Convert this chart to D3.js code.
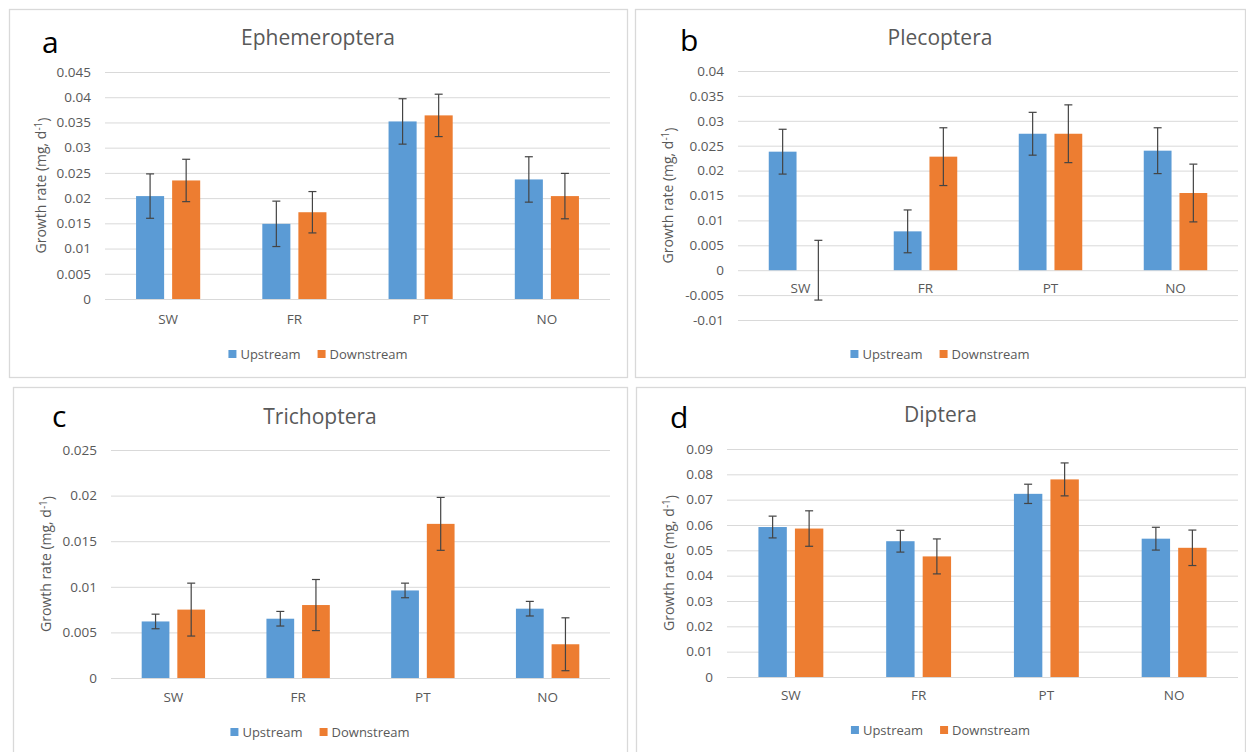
<!DOCTYPE html>
<html>
<head>
<meta charset="utf-8">
<script src="https://cdn.jsdelivr.net/npm/d3@7"></script>
<style>
  body { margin: 0; background: #fff; }
  text { font-family: "Open Sans", sans-serif; fill: #595959; }
</style>
</head>
<body>
<div id="chart"></div>
<script>
let width = 1246
let height = 752

let categories = ["SW", "FR", "PT", "NO"]
let seriesNames = ["Upstream", "Downstream"]
let colors = ["#5B9BD5", "#ED7D31"]

// Ephemeroptera
let ephUp = [0.0204, 0.0149, 0.0352, 0.0237]
let ephUpErr = [0.0044, 0.0045, 0.0045, 0.0045]
let ephDown = [0.0235, 0.0172, 0.0364, 0.0204]
let ephDownErr = [0.0042, 0.0041, 0.0042, 0.0045]
let ephTicks = [0, 0.005, 0.01, 0.015, 0.02, 0.025, 0.03, 0.035, 0.04, 0.045]

// Plecoptera
let pleUp = [0.0238, 0.0078, 0.0274, 0.0240]
let pleUpErr = [0.0045, 0.0043, 0.0043, 0.0046]
let pleDown = [0, 0.0228, 0.0274, 0.0155]
let pleDownErr = [0.0060, 0.0058, 0.0058, 0.0058]
let pleTicks = [-0.01, -0.005, 0, 0.005, 0.01, 0.015, 0.02, 0.025, 0.03, 0.035, 0.04]

// Trichoptera
let triUp = [0.0062, 0.0065, 0.0096, 0.0076]
let triUpErr = [0.0008, 0.0008, 0.0008, 0.0008]
let triDown = [0.0075, 0.0080, 0.0169, 0.0037]
let triDownErr = [0.0029, 0.0028, 0.0029, 0.0029]
let triTicks = [0, 0.005, 0.01, 0.015, 0.02, 0.025]

// Diptera
let dipUp = [0.0592, 0.0536, 0.0723, 0.0546]
let dipUpErr = [0.0043, 0.0043, 0.0038, 0.0045]
let dipDown = [0.0586, 0.0476, 0.0780, 0.0510]
let dipDownErr = [0.0070, 0.0069, 0.0065, 0.0070]
let dipTicks = [0, 0.01, 0.02, 0.03, 0.04, 0.05, 0.06, 0.07, 0.08, 0.09]

let svg = d3.select("#chart")
  .append("svg")
    .attr("width", width)
    .attr("height", height)

function drawPanel(p) {
  let g = svg.append("g")

  // panel frame
  g.append("rect")
    .attr("x", p.box[0] + 0.5).attr("y", p.box[1] + 0.5)
    .attr("width", p.box[2] - p.box[0]).attr("height", p.box[3] - p.box[1])
    .attr("fill", "#fff").attr("stroke", "#d9d9d9").attr("stroke-width", 1.3)

  let cx = (p.box[0] + p.box[2]) / 2
  let [left, top, right, bottom] = p.plot

  let y = d3.scaleLinear()
    .domain(d3.extent(p.ticks))
    .range([bottom, top])

  let x0 = d3.scaleBand().domain(categories).range([left, right])
  let step = x0.bandwidth()
  let x1 = d3.scaleBand().domain(seriesNames)
    .range([step * 0.246, step * 0.754])
    .paddingInner(0.222)

  // gridlines
  let grid = g.append("g")
    .attr("transform", `translate(${left},0)`)
    .call(d3.axisLeft(y).tickValues(p.ticks).tickSize(-(right - left)).tickFormat(""))
  grid.select(".domain").remove()
  grid.selectAll("line").attr("stroke", "#d9d9d9")

  // y labels
  let yAx = g.append("g")
    .attr("transform", `translate(${left},0)`)
    .call(d3.axisLeft(y).tickValues(p.ticks).tickSize(0).tickPadding(14).tickFormat(d => String(d)))
  yAx.select(".domain").remove()
  yAx.selectAll("text")
    .style("font-family", "Open Sans").style("font-size", "13.5px").attr("fill", "#595959")

  // x labels below the zero line
  let xAx = g.append("g")
    .attr("transform", `translate(0,${y(0)})`)
    .call(d3.axisBottom(x0).tickSize(0).tickPadding(p.xPad))
  xAx.select(".domain").remove()
  xAx.selectAll("text")
    .style("font-family", "Open Sans").style("font-size", "13.5px").attr("fill", "#595959")

  let rows = categories.map((c, i) => ({
    cat: c,
    vals: [
      { s: seriesNames[0], v: p.up[i], e: p.upErr[i] },
      { s: seriesNames[1], v: p.down[i], e: p.downErr[i] }
    ]
  }))

  let groups = g.append("g")
    .selectAll("g")
    .data(rows)
    .enter()
    .append("g")
      .attr("transform", d => `translate(${x0(d.cat)},0)`)

  groups.selectAll("rect")
    .data(d => d.vals)
    .enter()
    .append("rect")
      .attr("x", d => x1(d.s))
      .attr("width", x1.bandwidth())
      .attr("y", d => y(Math.max(0, d.v)))
      .attr("height", d => Math.abs(y(d.v) - y(0)))
      .style("fill", (d, i) => colors[i])

  // error bars
  let eb = groups.selectAll("g.err")
    .data(d => d.vals)
    .enter()
    .append("g")
      .attr("class", "err")
      .attr("stroke", "#444")
      .attr("stroke-width", 1.2)
  let mid = d => x1(d.s) + x1.bandwidth() / 2
  eb.append("line")
    .attr("x1", mid).attr("x2", mid)
    .attr("y1", d => y(d.v + d.e)).attr("y2", d => y(d.v - d.e))
  eb.append("line")
    .attr("x1", d => mid(d) - 4).attr("x2", d => mid(d) + 4)
    .attr("y1", d => y(d.v + d.e)).attr("y2", d => y(d.v + d.e))
  eb.append("line")
    .attr("x1", d => mid(d) - 4).attr("x2", d => mid(d) + 4)
    .attr("y1", d => y(d.v - d.e)).attr("y2", d => y(d.v - d.e))

  // title and panel letter
  g.append("text")
    .attr("x", cx).attr("y", p.titleY)
    .attr("text-anchor", "middle")
    .style("font-size", "21px")
    .text(p.title)
  g.append("text")
    .attr("x", p.letterX).attr("y", p.letterY)
    .style("font-size", "30px")
    .style("fill", "#000")
    .text(p.letter)

  // y axis title
  let yt = g.append("text")
    .attr("transform", `translate(${p.yTitleX},${(top + bottom) / 2}) rotate(-90)`)
    .attr("text-anchor", "middle")
    .attr("dy", "0.35em")
    .style("font-size", "14px")
  yt.append("tspan").text("Growth rate (mg,  d")
  yt.append("tspan").attr("dy", "-0.4em").style("font-size", "10px").text("-1")
  yt.append("tspan").attr("dy", "0.4em").text(")")

  // legend
  let leg = g.append("g")
  let lx = 0
  seriesNames.forEach((s, i) => {
    leg.append("rect")
      .attr("x", lx).attr("y", -4).attr("width", 8).attr("height", 8)
      .style("fill", colors[i])
    let t = leg.append("text")
      .attr("x", lx + 12).attr("y", 0).attr("dy", "0.35em")
      .style("font-size", "13px")
      .text(s)
    lx += 12 + t.node().getComputedTextLength() + 17
  })
  let lw = lx - 17
  leg.attr("transform", `translate(${cx - lw / 2},${p.legendY})`)
}

drawPanel({
  letter: "a", title: "Ephemeroptera",
  up: ephUp, upErr: ephUpErr, down: ephDown, downErr: ephDownErr, ticks: ephTicks,
  box: [9, 9, 627, 377], plot: [105, 72, 610, 299],
  titleY: 45, letterX: 42, letterY: 53, yTitleX: 41, legendY: 354, xPad: 15
})
drawPanel({
  letter: "b", title: "Plecoptera",
  up: pleUp, upErr: pleUpErr, down: pleDown, downErr: pleDownErr, ticks: pleTicks,
  box: [635, 9, 1245, 377], plot: [738, 71, 1238, 320],
  titleY: 45, letterX: 680, letterY: 51, yTitleX: 668, legendY: 354, xPad: 13
})
drawPanel({
  letter: "c", title: "Trichoptera",
  up: triUp, upErr: triUpErr, down: triDown, downErr: triDownErr, ticks: triTicks,
  box: [13, 387, 627, 760], plot: [111, 450, 610, 678],
  titleY: 424, letterX: 52, letterY: 427, yTitleX: 46, legendY: 732, xPad: 14
})
drawPanel({
  letter: "d", title: "Diptera",
  up: dipUp, upErr: dipUpErr, down: dipDown, downErr: dipDownErr, ticks: dipTicks,
  box: [636, 387, 1245, 760], plot: [727, 449, 1238, 677],
  titleY: 422, letterX: 670, letterY: 428, yTitleX: 669, legendY: 730, xPad: 13
})
</script>
</body>
</html>
